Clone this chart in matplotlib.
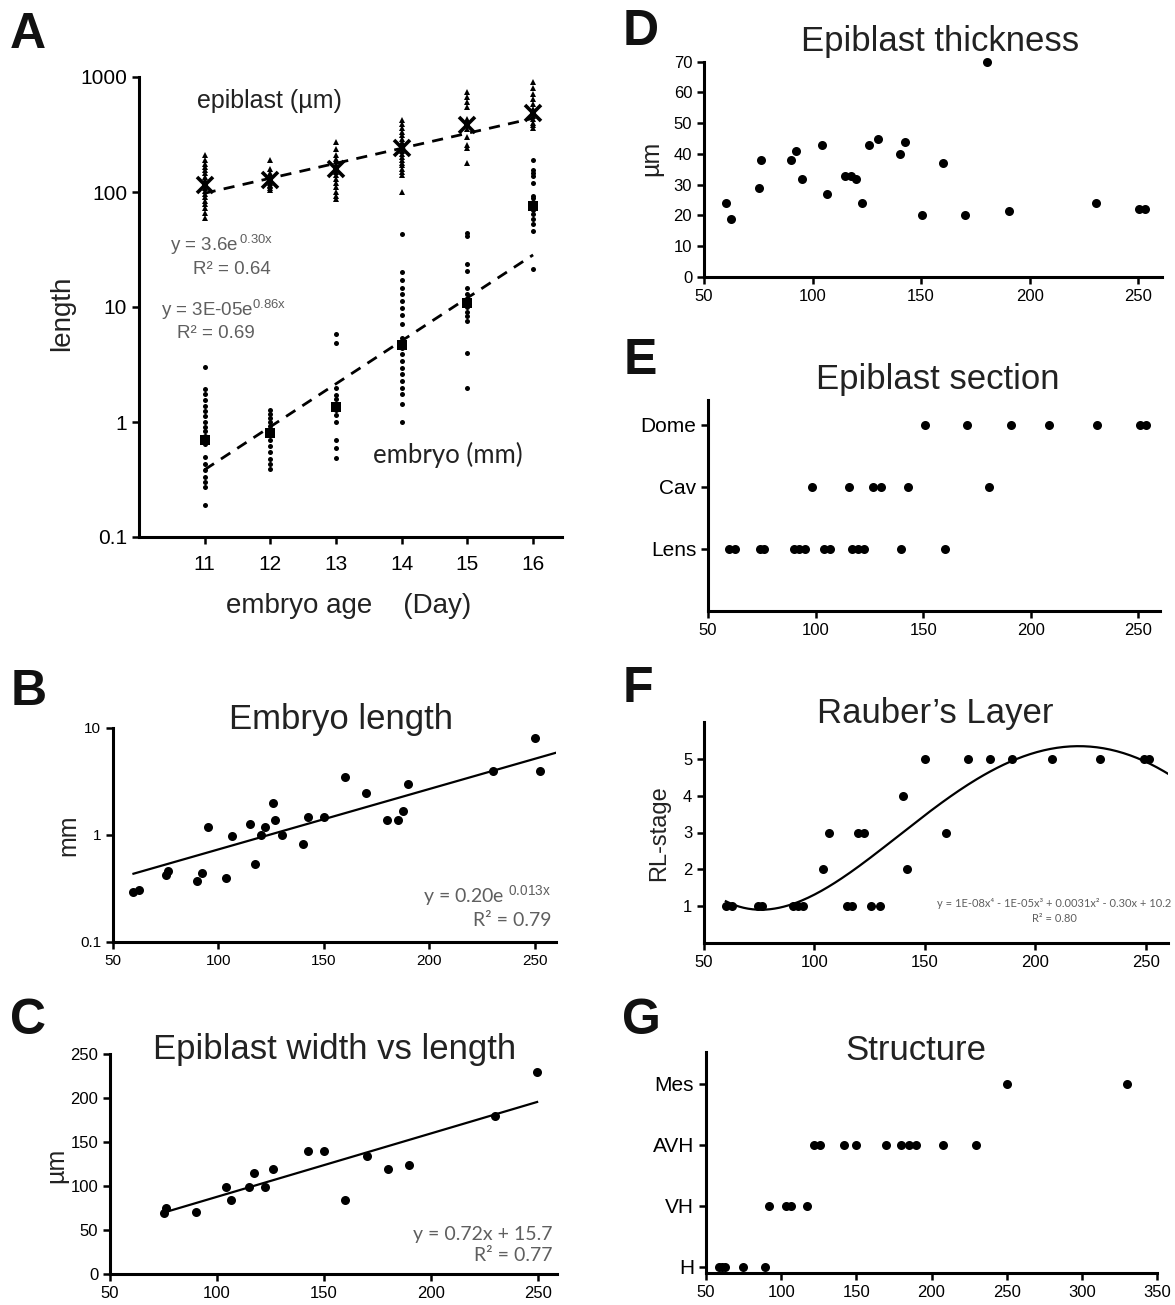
import matplotlib
matplotlib.use('Agg')
import matplotlib.pyplot as plt
import numpy as np

plt.rcParams['font.family'] = ['Liberation Sans', 'DejaVu Sans']
plt.rcParams['mathtext.fontset'] = 'custom'
plt.rcParams['mathtext.rm'] = 'Liberation Sans'
plt.rcParams['mathtext.it'] = 'Liberation Sans:italic'

NARROW = ['Liberation Sans Narrow', 'Liberation Sans', 'DejaVu Sans']
CALIB = ['Lato', 'DejaVu Sans']
GREY = '#5f5f5f'

# ---- panel A: embryo age (day) vs length
days = [11, 12, 13, 14, 15, 16]
epi_um = [
    [210, 190, 175, 165, 155, 145, 135, 128, 120, 115, 108, 102, 96, 90, 84, 78, 72, 66, 60],
    [188, 160, 145, 138, 130, 124, 120, 116, 112, 108, 105],
    [270, 235, 210, 195, 185, 175, 168, 160, 150, 140, 130, 120, 110, 100, 93, 87],
    [420, 390, 360, 330, 310, 290, 270, 255, 240, 228, 215, 200, 190, 180, 170, 160, 150, 140, 100],
    [740, 670, 605, 547, 430, 390, 350, 300, 255, 240, 177],
    [900, 800, 710, 640, 580, 530, 490, 460, 430, 400, 380, 360],
]
epi_mean = [114, 126, 160, 240, 381, 485]
emb_mm = [
    [2.99, 1.92, 1.74, 1.54, 1.37, 1.24, 1.12, 1.01, 0.91, 0.83, 0.75, 0.65, 0.50, 0.43, 0.38, 0.33, 0.30, 0.27, 0.19],
    [1.28, 1.18, 1.08, 1.0, 0.92, 0.85, 0.78, 0.70, 0.62, 0.55, 0.48, 0.43, 0.39],
    [5.8, 4.9, 1.96, 1.73, 1.57, 1.42, 1.27, 1.14, 1.0, 0.70, 0.59, 0.49],
    [43, 20, 17, 14.6, 12.9, 11.3, 9.8, 8.5, 7.1, 5.36, 4.85, 4.39, 3.89, 3.38, 2.93, 2.6, 2.26, 1.96, 1.74, 1.42, 1.01],
    [44, 41.7, 23.8, 20.6, 14.6, 13, 11.5, 10, 9, 8.3, 7.6, 4.0, 1.96],
    [188, 154, 145, 139, 119, 93, 88, 82, 70, 64, 58, 53, 46, 21.5],
]
emb_mean = [0.70, 0.81, 1.36, 4.66, 10.8, 76]
epi_fit = (3.6, 0.30)
emb_fit = (3e-5, 0.86)

# ---- B: embryo length (mm) vs epiblast length
b_x = [59.7, 62.5, 75.0, 76.0, 89.7, 92.4, 95.0, 103.8, 106.4, 114.8, 117.3, 120.0, 122.2,
       125.8, 127.0, 130.0, 139.9, 142.3, 150.1, 160.0, 169.9, 180.0, 185.0, 187.5, 190.0,
       230.2, 250.0, 252.5]
b_y = [0.295, 0.306, 0.42, 0.46, 0.374, 0.445, 1.19, 0.40, 0.97, 1.28, 0.54, 0.99, 1.19,
       1.98, 1.38, 0.99, 0.82, 1.48, 1.48, 3.48, 2.49, 1.38, 1.38, 1.69, 3.0,
       3.96, 8.0, 3.96]
b_fit = (0.20, 0.013)

# ---- C: epiblast width vs length
c_x = [75.2, 76.2, 90.3, 104.2, 106.7, 115.1, 117.4, 122.4, 126.0, 142.5, 150.0, 160.1,
       170.0, 180.0, 189.9, 229.8, 249.7]
c_y = [69.0, 74.6, 70.8, 99.2, 84.1, 99.2, 114.4, 99.2, 119.3, 139.8, 139.8, 84.1,
       134.5, 119.3, 123.5, 179.5, 229.9]
c_fit = (0.72, 15.7)

# ---- D: epiblast thickness
d_x = [60.1, 62.4, 75.2, 76.1, 90.1, 92.5, 95.2, 104.2, 106.7, 114.8, 117.6, 120.2, 122.7,
       126.2, 130.2, 140.2, 142.8, 150.3, 160.3, 170.3, 180.3, 190.4, 230.5, 250.6, 253.1]
d_y = [23.9, 18.9, 28.9, 37.9, 37.9, 40.9, 31.9, 42.9, 26.9, 32.9, 32.9, 31.9, 23.9,
       42.9, 44.9, 39.9, 43.9, 20.1, 36.9, 20.1, 70.0, 21.4, 23.9, 22.0, 22.0]

# ---- E: epiblast section
e_levels = ['Lens', 'Cav', 'Dome']
e_x = [59.6, 62.4, 74.0, 75.9, 89.9, 92.2, 94.9, 103.7, 106.5, 117.0, 119.8, 122.5, 139.8, 160.0,
       98.1, 115.6, 126.6, 130.5, 143.1, 180.6,
       150.6, 170.5, 190.6, 208.5, 230.6, 250.6, 253.3]
e_cat = ['Lens'] * 14 + ['Cav'] * 6 + ['Dome'] * 7

# ---- F: Rauber's layer stage
f_x = [59.9, 62.5, 74.6, 76.1, 90.1, 92.4, 95.0, 114.7, 117.2, 125.8, 129.8,
       104.0, 142.1,
       106.4, 119.6, 122.3, 159.5,
       139.9,
       149.8, 169.7, 179.6, 189.5, 207.6, 229.3, 249.0, 251.5]
f_y = [1] * 11 + [2] * 2 + [3] * 4 + [4] + [5] * 8

# ---- G: structure
g_levels = ['H', 'VH', 'AVH', 'Mes']
g_x = [58.9, 60.6, 62.4, 74.4, 89.5,
       91.9, 103.3, 106.4, 117.0,
       121.9, 125.9, 142.1, 149.7, 169.8, 179.6, 184.9, 189.8, 207.9, 229.6,
       250.2, 330.1]
g_cat = ['H'] * 5 + ['VH'] * 4 + ['AVH'] * 10 + ['Mes'] * 2

W, H = 1175, 1305
fig = plt.figure(figsize=(W / 100, H / 100), dpi=100)


def px_axes(l, t, r, b):
    ax = fig.add_axes([l / W, 1 - b / H, (r - l) / W, (b - t) / H])
    for s in ['top', 'right']:
        ax.spines[s].set_visible(False)
    for s in ['left', 'bottom']:
        ax.spines[s].set_linewidth(2.2)
    ax.tick_params(direction='out', length=5, width=1.8, color='black')
    return ax


def ftext(x, y, s, **kw):
    fig.text(x / W, 1 - y / H, s, ha='center', va='center', **kw)


def small_ticks(ax, size=12):
    for lab in ax.get_xticklabels() + ax.get_yticklabels():
        lab.set_family(NARROW)
        lab.set_fontsize(size)


def dots(ax, x, y, ms=6.5):
    ax.plot(x, y, 'o', color='black', ms=ms, mew=0, ls='none', clip_on=False, zorder=3)


# ---------------- A
ax = px_axes(139, 77, 562, 537)
ax.set_yscale('log')
for d, vals in zip(days, epi_um):
    ax.plot([d] * len(vals), vals, '^', color='black', ms=4.2, mew=0)
for d, vals in zip(days, emb_mm):
    ax.plot([d] * len(vals), vals, 'o', color='black', ms=3.6, mew=0)
ax.plot(days, epi_mean, 'x', color='black', ms=11, mew=2.6, ls='none')
ax.plot(days, emb_mean, 's', color='black', ms=7, mew=0, ls='none')
xf = np.linspace(days[0], days[-1], 50)
ax.plot(xf, epi_fit[0] * np.exp(epi_fit[1] * xf), color='black', lw=2, dashes=(4, 3))
ax.plot(xf, emb_fit[0] * np.exp(emb_fit[1] * xf), color='black', lw=2, dashes=(4, 3))
ax.set_xlim(10, 16.44)
ax.set_ylim(0.1, 1000)
ax.set_xticks(days)
ax.set_yticks([0.1, 1, 10, 100, 1000])
ax.set_yticklabels(['0.1', '1', '10', '100', '1000'])
ax.yaxis.set_minor_locator(matplotlib.ticker.NullLocator())
ax.tick_params(labelsize=15)
ax.tick_params(axis='x', pad=8)
ftext(269, 101, 'epiblast (µm)', fontsize=18, color='#222222')
ftext(448, 455, 'embryo (mm)', fontsize=18.5, color='#222222', family=CALIB)
ftext(222, 245, r'y = 3.6e$^{\mathrm{\,0.30x}}$', fontsize=13.5, color=GREY)
ftext(232, 269, 'R² = 0.64', fontsize=13.5, color=GREY)
ftext(224, 310, r'y = 3E-05e$^{\mathrm{0.86x}}$', fontsize=13.5, color=GREY)
ftext(216, 333, 'R² = 0.69', fontsize=13.5, color=GREY)
ftext(62, 313, 'length', fontsize=20, rotation=90, color='#222222')
ftext(349, 606, 'embryo age    (Day)', fontsize=20, color='#222222')

# ---------------- B
ax = px_axes(113, 728, 556, 942)
ax.set_yscale('log')
dots(ax, b_x, b_y)
xf = np.linspace(min(b_x), 260, 50)
ax.plot(xf, b_fit[0] * np.exp(b_fit[1] * xf), color='black', lw=1.6)
ax.set_xlim(50, 260)
ax.set_ylim(0.1, 10)
ax.set_xticks([50, 100, 150, 200, 250])
ax.set_yticks([0.1, 1, 10])
ax.set_yticklabels(['0.1', '1', '10'])
ax.yaxis.set_minor_locator(matplotlib.ticker.NullLocator())
small_ticks(ax, 11)
ax.text(0.99, 0.215, r'y = 0.20e $^{\mathrm{0.013x}}$', transform=ax.transAxes, ha='right',
        va='center', fontsize=14, color=GREY, family=CALIB)
ax.text(0.99, 0.10, 'R² = 0.79', transform=ax.transAxes, ha='right', va='center',
        fontsize=14, color=GREY, family=CALIB)
ftext(341, 719, 'Embryo length', fontsize=25, color='#222222')
ftext(68, 835, 'mm', fontsize=18, rotation=90, color='#222222')

# ---------------- C
ax = px_axes(110, 1054, 557, 1274)
dots(ax, c_x, c_y)
xf = np.array([min(c_x), max(c_x)])
ax.plot(xf, c_fit[0] * xf + c_fit[1], color='black', lw=1.6)
ax.set_xlim(50, 259)
ax.set_ylim(0, 250)
ax.set_xticks([50, 100, 150, 200, 250])
ax.set_yticks([0, 50, 100, 150, 200, 250])
small_ticks(ax)
ax.text(0.99, 0.18, 'y = 0.72x + 15.7', transform=ax.transAxes, ha='right', va='center',
        fontsize=14, color=GREY, family=CALIB)
ax.text(0.99, 0.085, 'R² = 0.77', transform=ax.transAxes, ha='right', va='center',
        fontsize=14, color=GREY, family=CALIB)
ftext(335, 1050, 'Epiblast width vs length', fontsize=25, color='#222222')
ftext(56, 1165, 'µm', fontsize=18, rotation=90, color='#222222')

# ---------------- D
ax = px_axes(704, 61.7, 1162, 276.7)
dots(ax, d_x, d_y)
ax.set_xlim(50, 261)
ax.set_ylim(0, 70)
ax.set_xticks([50, 100, 150, 200, 250])
ax.set_yticks(range(0, 71, 10))
small_ticks(ax)
ftext(940, 42, 'Epiblast thickness', fontsize=25, color='#222222')
ftext(651, 158, 'µm', fontsize=18, rotation=90, color='#222222')

# ---------------- E
ax = px_axes(708, 400, 1160, 611)
e_y = [e_levels.index(c) + 1 for c in e_cat]
dots(ax, e_x, e_y)
ax.set_xlim(50, 260)
ax.set_ylim(0, 3.4)
ax.set_xticks([50, 100, 150, 200, 250])
ax.set_yticks([1, 2, 3])
ax.set_yticklabels(e_levels)
small_ticks(ax)
for lab in ax.get_yticklabels():
    lab.set_fontsize(15)
ftext(938, 380, 'Epiblast section', fontsize=25, color='#222222')

# ---------------- F
ax = px_axes(704, 722, 1168, 943)
dots(ax, f_x, f_y)
coef = np.polyfit(f_x, f_y, 4)
xf = np.linspace(min(f_x), 260, 200)
ax.plot(xf, np.polyval(coef, xf), color='black', lw=1.6)
ax.set_xlim(50, 260)
ax.set_ylim(0, 6)
ax.set_xticks([50, 100, 150, 200, 250])
ax.set_yticks([1, 2, 3, 4, 5])
small_ticks(ax)
ax.text(0.755, 0.18, 'y = 1E-08x⁴ - 1E-05x³ + 0.0031x² - 0.30x + 10.2', transform=ax.transAxes,
        ha='center', va='center', fontsize=8, color=GREY, family=CALIB)
ax.text(0.755, 0.11, 'R² = 0.80', transform=ax.transAxes, ha='center', va='center',
        fontsize=8, color=GREY, family=CALIB)
ftext(935, 713, 'Rauber’s Layer', fontsize=25, color='#222222')
ftext(659, 833, 'RL-stage', fontsize=17, rotation=90, color='#222222')

# ---------------- G
ax = px_axes(706, 1052, 1157, 1273)
g_y = [g_levels.index(c) + 1 for c in g_cat]
dots(ax, g_x, g_y)
ax.set_xlim(50, 350)
ax.set_ylim(0.9, 4.52)
ax.set_xticks(range(50, 351, 50))
ax.set_yticks([1, 2, 3, 4])
ax.set_yticklabels(g_levels)
small_ticks(ax)
for lab in ax.get_yticklabels():
    lab.set_fontsize(15)
ftext(916, 1050, 'Structure', fontsize=25, color='#222222')

# panel letters
for letter, (x, y) in zip('ABCDEFG', [(28, 35), (29, 692), (28, 1021), (641, 32),
                                      (640, 361), (638, 689), (641, 1021)]):
    ftext(x, y, letter, fontsize=36, fontweight='bold', color='#111111')

fig.savefig('out.png', dpi=100, facecolor='white')
